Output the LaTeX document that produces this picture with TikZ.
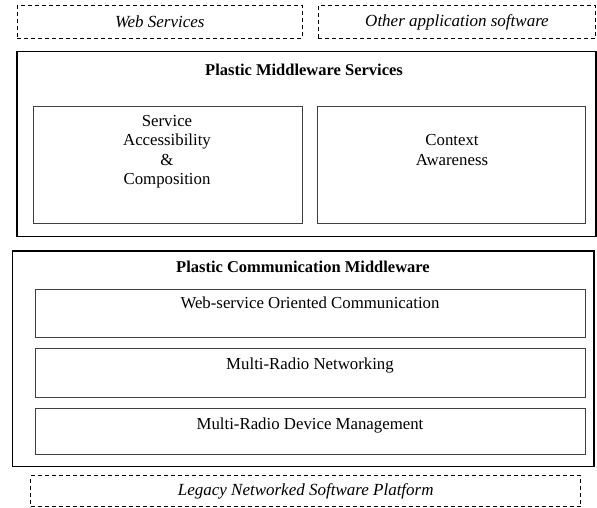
\documentclass[tikz,border=0pt]{standalone}
\usepackage{fontspec}
\setmainfont{Liberation Serif}
\usepackage{tikz}

\tikzset{
    outerbox/.style={draw, line width=1.6pt, inner sep=0pt},
    innerbox/.style={draw=black!75, line width=0.8pt, inner sep=0pt},
    extbox/.style={draw, dashed, line width=1.3pt, dash pattern=on 4pt off 3pt, inner sep=0pt},
    boxtext/.style={font=\fontsize{16.8}{19.5}\selectfont, align=center, inner sep=0pt},
    titletext/.style={font=\fontsize{16.5}{19.5}\selectfont\bfseries, inner sep=0pt},
    exttext/.style={font=\fontsize{17}{19.5}\selectfont\itshape, inner sep=0pt},
}

\begin{document}
\begin{tikzpicture}[x=1pt, y=-1pt]
    \useasboundingbox (0, 0) rectangle (597, 508);
    % applications on top
    \node[extbox, minimum width=285, minimum height=32.6] (websvc) at (159.8, 22) {};
    \node[extbox, minimum width=277.5, minimum height=32.6] (otherapp) at (457, 22) {};
    \node[exttext] (websvctxt) at (websvc.center) {Web Services};
    \node[exttext] (otherapptxt) at (otherapp.center) {Other application software};
    % middleware services
    \node[outerbox, minimum width=579, minimum height=184.8] (pms) at (306.2, 144.1) {};
    \node[titletext] (pmstxt) at (304, 70) {Plastic Middleware Services};
    \node[innerbox, minimum width=268.7, minimum height=117] (sac) at (167.6, 164.5) {};
    \node[innerbox, minimum width=267.8, minimum height=117] (ctx) at (451.6, 164.5) {};
    \node[boxtext] (sactxt) at (167, 151.5) {Service\\Accessibility\\\&\\Composition};
    \node[boxtext] (ctxtxt) at (452, 150) {Context\\Awareness};
    % communication middleware
    \node[outerbox, minimum width=581.5, minimum height=215.5] (pcm) at (303.2, 358.7) {};
    \node[titletext] (pcmtxt) at (303, 267) {Plastic Communication Middleware};
    \node[innerbox, minimum width=550, minimum height=48.7] (wsoc) at (310, 313.3) {};
    \node[innerbox, minimum width=550, minimum height=49] (mrn) at (310, 372.5) {};
    \node[innerbox, minimum width=550, minimum height=46] (mrdm) at (310, 431) {};
    \node[boxtext] (wsoctxt) at (310, 303) {Web-service Oriented Communication};
    \node[boxtext] (mrntxt) at (310, 365) {Multi-Radio Networking};
    \node[boxtext] (mrdmtxt) at (310, 425) {Multi-Radio Device Management};
    % legacy platform
    \node[extbox, minimum width=550, minimum height=31] (legacy) at (305.7, 491.2) {};
    \node[exttext] (legacytxt) at (legacy.center) {Legacy Networked Software Platform};
\end{tikzpicture}
\end{document}
